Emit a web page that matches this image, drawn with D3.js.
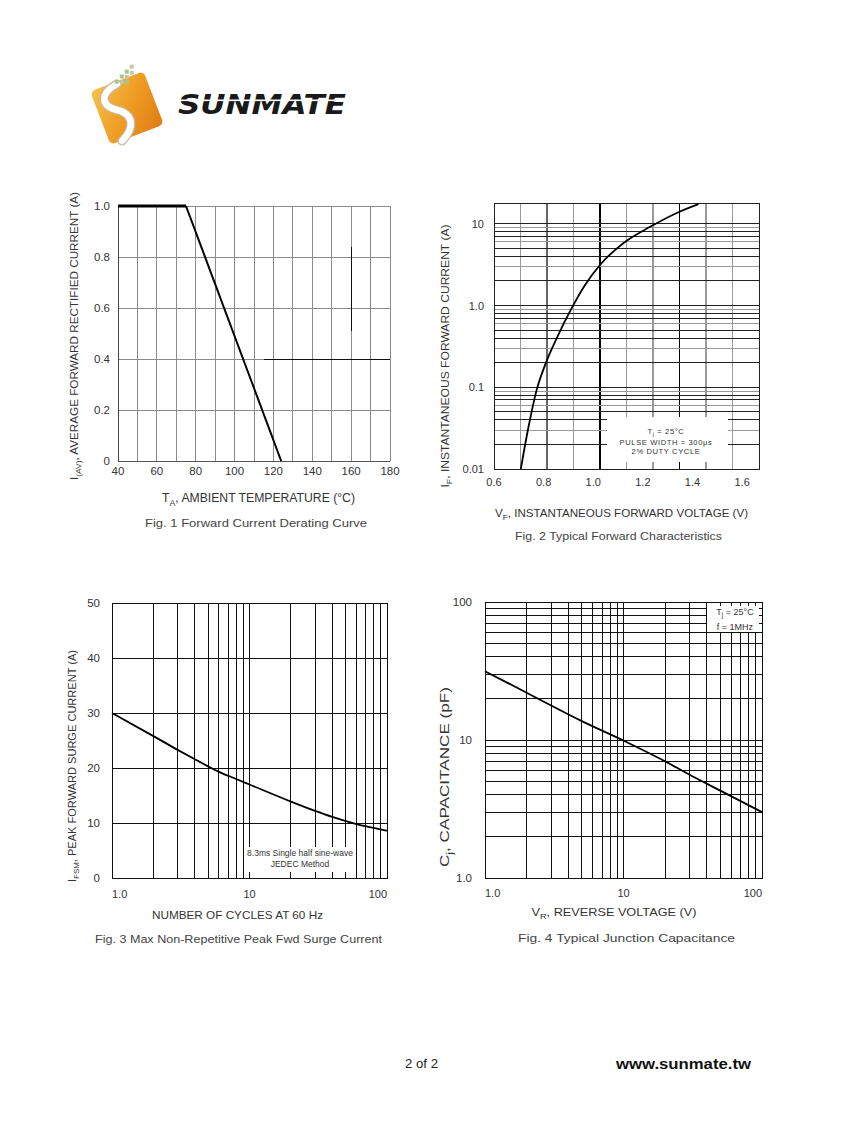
<!DOCTYPE html>
<html><head><meta charset="utf-8">
<script src="https://cdn.jsdelivr.net/npm/d3@7"></script>
<style>body{margin:0;background:#fff}svg{display:block}text{font-family:"Liberation Sans",Arial,sans-serif}</style>
</head><body><script>
// ---------- DATA ----------
const fig1Temp = [40, 75, 124];
const fig1Current = [1.0, 1.0, 0];
const fig1XTicks = [40, 60, 80, 100, 120, 140, 160, 180];
const fig1YTicks = [0, 0.2, 0.4, 0.6, 0.8, 1.0];
const fig1YLabels = ["0", "0.2", "0.4", "0.6", "0.8", "1.0"];

const fig2Voltage = [0.708, 0.738, 0.772, 0.806, 0.853, 0.913, 0.967, 1.027, 1.121, 1.229, 1.337, 1.424];
const fig2Current = [0.01, 0.0315, 0.093, 0.188, 0.40, 0.93, 1.79, 3.14, 5.8, 9.2, 13.6, 17.4];
const fig2XTicks = [0.6, 0.8, 1.0, 1.2, 1.4, 1.6];
const fig2YTicks = [0.01, 0.1, 1, 10];
const fig2YLabels = ["0.01", "0.1", "1.0", "10"];
const fig2Notes = ["T|j| = 25°C", "PULSE WIDTH = 300μs", "2% DUTY CYCLE"];

const fig3Cycles = [1, 2, 3, 4, 5, 6, 8, 10, 20, 30, 40, 60, 80, 100];
const fig3Current = [30, 25.8, 23.3, 21.6, 20.3, 19.3, 18.0, 17.0, 13.9, 12.2, 11.1, 9.8, 9.1, 8.6];
const fig3XTicks = [1, 10, 100];
const fig3XLabels = ["1.0", "10", "100"];
const fig3YTicks = [0, 10, 20, 30, 40, 50];
const fig3Notes = ["8.3ms Single half sine-wave", "JEDEC Method"];

const fig4Voltage = [1, 2, 3, 5, 10, 20, 30, 50, 100];
const fig4Cap = [31.5, 22, 17.8, 13.7, 9.9, 7.0, 5.6, 4.3, 3.0];
const fig4XTicks = [1, 10, 100];
const fig4XLabels = ["1.0", "10", "100"];
const fig4YTicks = [1, 10, 100];
const fig4YLabels = ["1.0", "10", "100"];
const fig4Notes = ["T|j| = 25°C", "f = 1MHz"];

// ---------- SETUP ----------
const svg = d3.select("body").append("svg").attr("width", 847).attr("height", 1125);
svg.append("rect").attr("width", 847).attr("height", 1125).attr("fill", "#fff");
const TXT = "#333";

function line(g, x1, y1, x2, y2, color, w) {
  g.append("line").attr("x1", x1).attr("y1", y1).attr("x2", x2).attr("y2", y2)
    .attr("stroke", color).attr("stroke-width", w || 1).attr("shape-rendering", "crispEdges");
}
function richText(g, str, size) {
  const parts = str.split("|");
  parts.forEach((p, i) => {
    if (!p) return;
    const t = g.append("tspan").text(p);
    if (i % 2 === 1) t.attr("font-size", size * 0.72).attr("dy", size * 0.3);
    else if (i > 0) t.attr("dy", -size * 0.3);
  });
}
function label(g, x, y, str, size, anchor, opts) {
  opts = opts || {};
  const t = g.append("text").attr("x", x).attr("y", y).attr("font-size", size)
    .attr("text-anchor", anchor || "middle").attr("fill", opts.fill || TXT);
  if (opts.rotate) t.attr("transform", `rotate(-90,${x},${y})`);
  if (opts.family) t.style("font-family", opts.family);
  if (opts.ls) t.attr("letter-spacing", opts.ls);
  if (opts.weight) t.attr("font-weight", opts.weight);
  if (opts.len) t.attr("textLength", opts.len).attr("lengthAdjust", "spacingAndGlyphs");
  richText(t, str, size);
  return t;
}

// ---------- LOGO ----------
const defs = svg.append("defs");
const grad = defs.append("linearGradient").attr("id", "og").attr("x1", 0).attr("y1", 0).attr("x2", 1).attr("y2", 1);
grad.append("stop").attr("offset", 0).attr("stop-color", "#f6c24c");
grad.append("stop").attr("offset", 0.5).attr("stop-color", "#ef9d25");
grad.append("stop").attr("offset", 1).attr("stop-color", "#df7b14");
const logo = svg.append("g");
logo.append("rect").attr("x", -28.5).attr("y", -28.5).attr("width", 57).attr("height", 57).attr("rx", 5)
  .attr("fill", "url(#og)").attr("transform", "translate(127,108) rotate(-21)");
const sPath = "M117 84 C99 94, 101 106, 117 110 C134 114, 135 128, 122 141";
logo.append("path").attr("d", sPath).attr("fill", "none").attr("stroke", "#c9b9a0").attr("stroke-width", 9).attr("stroke-linecap", "round");
logo.append("path").attr("d", sPath).attr("fill", "none").attr("stroke", "#fff").attr("stroke-width", 6.5).attr("stroke-linecap", "round");
[[131.7, 66.7], [126.7, 71.7], [131.7, 72.7], [121.7, 76.5], [126.7, 77], [116.7, 81.7], [121.7, 82], [126.7, 82]]
  .forEach(([x, y], i) => logo.append("rect").attr("x", x - 2).attr("y", y - 2).attr("width", 4).attr("height", 4)
    .attr("fill", i % 2 ? "#a9c48c" : "#c2c7a8"));
logo.append("text").attr("x", 178).attr("y", 113.5).attr("font-size", 26).attr("font-weight", 900)
  .attr("font-style", "italic").style("font-family", "'DejaVu Sans',sans-serif")
  .attr("textLength", 168).attr("lengthAdjust", "spacingAndGlyphs").attr("fill", "#1a1a1a").text("SUNMATE");
logo.append("rect").attr("x", 176).attr("y", 99.5).attr("width", 175).attr("height", 1.6).attr("fill", "#fff");

// ---------- FIG 1 ----------
{
  const g = svg.append("g");
  const x = d3.scaleLinear().domain([40, 180]).range([118, 390]);
  const y = d3.scaleLinear().domain([0, 1]).range([461, 206]);
  d3.range(40, 181, 10).forEach(v => line(g, x(v), y(0), x(v), y(1), "#8c8c8c"));
  fig1YTicks.forEach(v => line(g, x(40), y(v), x(180), y(v), "#8c8c8c"));
  line(g, x(40), y(0), x(40), y(1), "#444");
  line(g, x(40), y(0), x(180), y(0), "#555");
  line(g, x(115), y(0.4), x(180), y(0.4), "#111");
  line(g, x(160), y(0.51), x(160), y(0.84), "#111");
  const pts = fig1Temp.map((t, i) => [x(t), y(fig1Current[i])]);
  g.append("path").attr("d", d3.line()(pts.slice(0, 2))).attr("stroke", "#000").attr("stroke-width", 3.2).attr("fill", "none");
  g.append("path").attr("d", d3.line()(pts.slice(1))).attr("stroke", "#000").attr("stroke-width", 2).attr("fill", "none");
  fig1YTicks.forEach((v, i) => label(g, 110, y(v) + 4, fig1YLabels[i], 11.5, "end"));
  fig1XTicks.forEach(v => label(g, x(v), 475, String(v), 11.5, "middle"));
  label(g, 258.5, 502, "T|A|, AMBIENT TEMPERATURE (°C)", 12, "middle", { len: 193 });
  label(g, 256, 527, "Fig. 1 Forward Current Derating Curve", 11, "middle", { fill: "#444", len: 222 });
  label(g, 78, 336, "I|(AV)|, AVERAGE FORWARD RECTIFIED CURRENT (A)", 11.2, "middle", { rotate: true, len: 288 });
}

// ---------- FIG 2 ----------
{
  const g = svg.append("g");
  const x = d3.scaleLinear().domain([0.6, 1.668]).range([494, 759]);
  const y = d3.scaleLog().domain([0.01, 18]).range([469, 203]);
  const vCols = ["#9a9a9a", "#666", "#9a9a9a", "#000", "#9a9a9a", "#9a9a9a", "#000", "#9a9a9a", "#9a9a9a"];
  d3.range(1, 10).forEach(i => {
    const v = 0.6 + i * (1.668 - 0.6) / 10;
    line(g, x(v), y(18), x(v), y(0.01), vCols[i - 1], vCols[i - 1] === "#000" ? 1.4 : 1.2);
  });
  const hCols = ["#222", "#999", "#222", "#222", "#999", "#222", "#222", "#999"];
  [0.01, 0.1, 1, 10].forEach(d => {
    d3.range(2, 10).forEach((k, j) => { const v = d * k; if (v < 18) line(g, x(0.6), y(v), x(1.668), y(v), hCols[j], 1); });
    if (d > 0.01) line(g, x(0.6), y(d), x(1.668), y(d), "#222", 1.2);
  });
  g.append("rect").attr("x", 494).attr("y", 203).attr("width", 265).attr("height", 266)
    .attr("fill", "none").attr("stroke", "#222").attr("stroke-width", 1).attr("shape-rendering", "crispEdges");
  g.append("rect").attr("x", 607).attr("y", 417).attr("width", 121).attr("height", 45).attr("fill", "#fff");
  fig2Notes.forEach((s, i) => label(g, 666, 433.5 + [0, 11.5, 20.5][i], s, 7.6, "middle", { ls: 0.6 }));
  const pts = fig2Voltage.map((v, i) => [x(v), y(fig2Current[i])]);
  g.append("path").attr("d", d3.line().curve(d3.curveMonotoneX)(pts)).attr("stroke", "#000").attr("stroke-width", 1.8).attr("fill", "none");
  fig2YTicks.forEach((v, i) => label(g, 484, y(v) + 4, fig2YLabels[i], 11, "end"));
  fig2XTicks.forEach(v => label(g, x(v), 486, v.toFixed(1), 11, "middle"));
  label(g, 621.5, 517, "V|F|, INSTANTANEOUS FORWARD VOLTAGE (V)", 11.2, "middle", { len: 253 });
  label(g, 618.5, 540, "Fig. 2 Typical Forward Characteristics", 10.5, "middle", { fill: "#444", len: 207 });
  label(g, 449, 356, "I|F|, INSTANTANEOUS FORWARD CURRENT (A)", 11, "middle", { rotate: true, len: 263 });
}

// ---------- FIG 3 ----------
{
  const g = svg.append("g");
  const x = d3.scaleLog().domain([1, 100]).range([112, 387]);
  const y = d3.scaleLinear().domain([0, 50]).range([878, 603]);
  [1, 10].forEach(d => d3.range(1, 10).forEach(k => line(g, x(d * k), y(0), x(d * k), y(50), "#111", 1)));
  fig3YTicks.forEach(v => line(g, x(1), y(v), x(100), y(v), "#111", 1));
  g.append("rect").attr("x", 112).attr("y", 603).attr("width", 275).attr("height", 275)
    .attr("fill", "none").attr("stroke", "#111").attr("stroke-width", 1).attr("shape-rendering", "crispEdges");
  g.append("rect").attr("x", 248).attr("y", 847).attr("width", 104).attr("height", 25).attr("fill", "#fff");
  const narrow = "'Liberation Sans Narrow','Arial Narrow',sans-serif";
  fig3Notes.forEach((s, i) => label(g, 300, 856 + i * 10.5, s, 8.5, "middle", { family: narrow }));
  const pts = fig3Cycles.map((c, i) => [x(c), y(fig3Current[i])]);
  g.append("path").attr("d", d3.line().curve(d3.curveMonotoneX)(pts)).attr("stroke", "#000").attr("stroke-width", 1.8).attr("fill", "none");
  fig3YTicks.forEach(v => label(g, 100, y(v) + 4, String(v), 11.5, "end"));
  fig3XTicks.forEach((v, i) => label(g, x(v), 898, fig3XLabels[i], 11, i === 0 ? "start" : i === 2 ? "end" : "middle"));
  label(g, 237.5, 919, "NUMBER OF CYCLES AT 60 Hz", 11.2, "middle", { len: 171 });
  label(g, 238.5, 943, "Fig. 3  Max Non-Repetitive Peak Fwd Surge Current", 11.2, "middle", { fill: "#444", len: 287 });
  label(g, 76, 766, "I|FSM|, PEAK FORWARD SURGE CURRENT (A)", 11.2, "middle", { rotate: true, len: 232 });
}

// ---------- FIG 4 ----------
{
  const g = svg.append("g");
  const x = d3.scaleLog().domain([1, 100]).range([485, 762]);
  const y = d3.scaleLog().domain([1, 100]).range([878, 602]);
  [1, 10].forEach(d => d3.range(1, 10).forEach(k => {
    line(g, x(d * k), y(1), x(d * k), y(100), "#111", 1);
    line(g, x(1), y(d * k), x(100), y(d * k), "#111", 1);
  }));
  g.append("rect").attr("x", 485).attr("y", 602).attr("width", 277).attr("height", 276)
    .attr("fill", "none").attr("stroke", "#111").attr("stroke-width", 1).attr("shape-rendering", "crispEdges");
  g.append("rect").attr("x", 707).attr("y", 606).attr("width", 52).attr("height", 26).attr("fill", "#fff");
  fig4Notes.forEach((s, i) => label(g, 735, 614.5 + i * 15, s, 9, "middle"));
  const pts = fig4Voltage.map((v, i) => [x(v), y(fig4Cap[i])]);
  g.append("path").attr("d", d3.line().curve(d3.curveMonotoneX)(pts)).attr("stroke", "#000").attr("stroke-width", 1.8).attr("fill", "none");
  fig4YTicks.forEach((v, i) => label(g, 472, y(v) + 4, fig4YLabels[i], 11.5, "end"));
  fig4XTicks.forEach((v, i) => label(g, x(v), 897, fig4XLabels[i], 11, i === 0 ? "start" : i === 2 ? "end" : "middle"));
  label(g, 614, 916, "V|R|, REVERSE VOLTAGE (V)", 11.2, "middle", { len: 165 });
  label(g, 626.5, 942, "Fig. 4 Typical Junction Capacitance", 11, "middle", { fill: "#444", len: 217 });
  label(g, 449, 777, "C|j|, CAPACITANCE (pF)", 12.5, "middle", { rotate: true, len: 180 });
}

// ---------- FOOTER ----------
label(svg, 405, 1068, "2 of 2", 12, "start", { fill: "#222", len: 33 });
label(svg, 751, 1069, "www.sunmate.tw", 15, "end", { fill: "#111", weight: "bold", len: 135 });
</script></body></html>
